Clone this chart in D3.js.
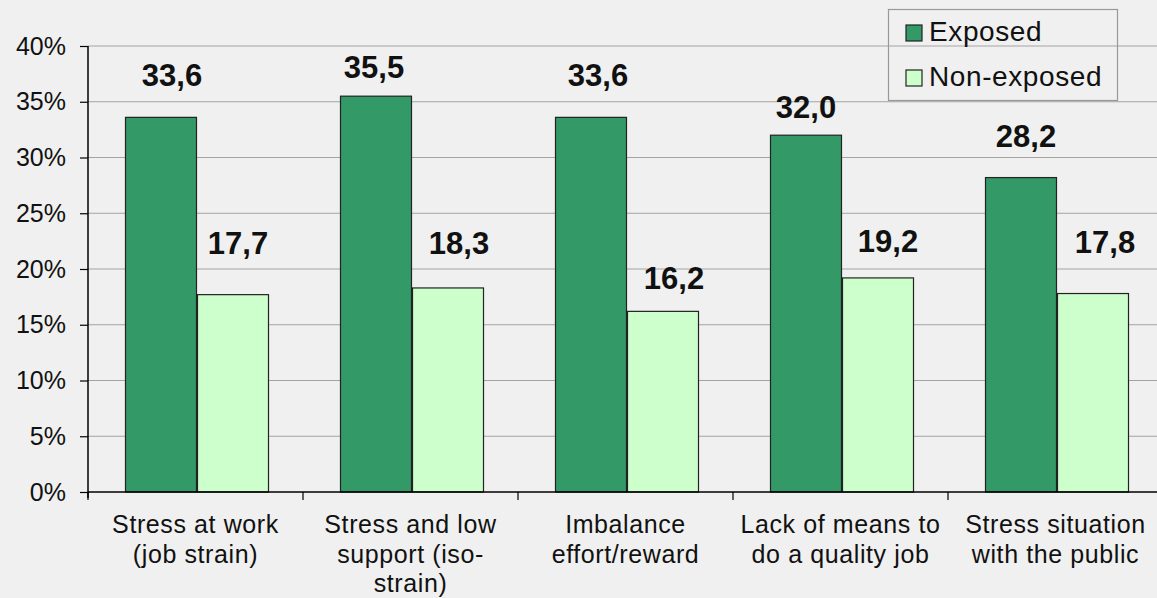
<!DOCTYPE html>
<html>
<head>
<meta charset="utf-8">
<script src="https://cdn.jsdelivr.net/npm/d3@7"></script>
<style>
  html, body { margin: 0; padding: 0; background: #eff0ef; }
  svg { display: block; }
  text { font-family: "Liberation Sans", Arial, sans-serif; fill: #111; }
</style>
</head>
<body>
<svg id="chart" width="1157" height="598"></svg>
<script>
// ---- data ----
const categories = [
  "Stress at work\n(job strain)",
  "Stress and low\nsupport (iso-\nstrain)",
  "Imbalance\neffort/reward",
  "Lack of means to\ndo a quality job",
  "Stress situation\nwith the public"
];
const seriesNames = ["Exposed", "Non-exposed"];
const exposed = [33.6, 35.5, 33.6, 32.0, 28.2];
const nonExposed = [17.7, 18.3, 16.2, 19.2, 17.8];
const yTicks = [0, 5, 10, 15, 20, 25, 30, 35, 40];

// ---- layout (hand-placed value label nudges relative to bar top / centre) ----
const exposedNudge = [[11, -31], [-2, -18], [7, -31], [0, -17], [5, -31]];
const nonExposedNudge = [[5, -41], [11, -34], [11, -22], [10, -26], [12, -41]];

const colors = { "Exposed": "#339966", "Non-exposed": "#ccffcc" };

const svg = d3.select("#chart");
const plotLeft = 88, plotRight = 1163, plotTop = 46, plotBottom = 492;

const x0 = d3.scaleBand().domain(categories).range([plotLeft, plotRight]).padding(0);
const x1 = d3.scaleBand().domain(seriesNames).range([37, 181]).padding(0);
const y = d3.scaleLinear().domain([0, 40]).range([plotBottom, plotTop]);

// gridlines
svg.append("g").selectAll("line").data(yTicks.filter(d => d > 0)).join("line")
  .attr("x1", plotLeft).attr("x2", 1157)
  .attr("y1", d => y(d)).attr("y2", d => y(d))
  .attr("stroke", "#a3a3a3").attr("stroke-width", 1.2);

// bars
const rows = categories.map((c, i) => ({
  cat: c,
  vals: [
    { s: "Exposed", v: exposed[i], n: exposedNudge[i] },
    { s: "Non-exposed", v: nonExposed[i], n: nonExposedNudge[i] }
  ]
}));

const groups = svg.append("g").selectAll("g").data(rows).join("g")
  .attr("transform", d => `translate(${x0(d.cat)},0)`);

groups.selectAll("rect").data(d => d.vals).join("rect")
  .attr("x", d => x1(d.s) + 0.5)
  .attr("y", d => y(d.v))
  .attr("width", x1.bandwidth() - 1)
  .attr("height", d => plotBottom - y(d.v))
  .attr("fill", d => colors[d.s])
  .attr("stroke", "#222")
  .attr("stroke-width", 1.2);

const fmt = v => d3.format(".1f")(v).replace(".", ",");
groups.selectAll("text.val").data(d => d.vals).join("text")
  .attr("class", "val")
  .attr("x", d => x1(d.s) + x1.bandwidth() / 2 + d.n[0])
  .attr("y", d => y(d.v) + d.n[1])
  .attr("text-anchor", "middle")
  .attr("font-size", 31)
  .attr("font-weight", "bold")
  .text(d => fmt(d.v));

// y axis
const yAxis = d3.axisLeft(y).tickValues(yTicks).tickFormat(d => d + "%").tickSize(8).tickPadding(14);
const ya = svg.append("g").attr("transform", `translate(${plotLeft},0)`).call(yAxis);
ya.select(".domain").attr("stroke", "#000").attr("stroke-width", 1.5).attr("d", `M0,${plotTop}V${plotBottom + 6}`);
ya.selectAll(".tick line").attr("stroke", "#000").attr("stroke-width", 1.2);
ya.selectAll(".tick text").attr("font-size", 25).attr("font-family", "Liberation Sans, Arial, sans-serif").attr("fill", "#111");

// x axis
const xa = svg.append("g").attr("transform", `translate(0,${plotBottom})`);
xa.append("line").attr("x1", plotLeft).attr("x2", 1157).attr("y1", 0).attr("y2", 0)
  .attr("stroke", "#000").attr("stroke-width", 1.5);
xa.selectAll("line.tk").data(categories).join("line").attr("class", "tk")
  .attr("x1", d => x0(d)).attr("x2", d => x0(d))
  .attr("y1", 0).attr("y2", 8).attr("stroke", "#000").attr("stroke-width", 1.2);

const catText = xa.selectAll("text").data(categories).join("text")
  .attr("x", d => x0(d) + x0.bandwidth() / 2)
  .attr("y", 41)
  .attr("text-anchor", "middle")
  .attr("font-size", 25)
  .attr("letter-spacing", "0.6px");
catText.each(function(d) {
  const t = d3.select(this);
  d.split("\n").forEach((line, i) => {
    t.append("tspan").attr("x", x0(d) + x0.bandwidth() / 2).attr("dy", i === 0 ? 0 : 29.5).text(line);
  });
});

// legend
const lg = svg.append("g");
lg.append("rect").attr("x", 888.5).attr("y", 9.5).attr("width", 229).attr("height", 91)
  .attr("fill", "none").attr("stroke", "#999").attr("stroke-width", 1.2);
const li = lg.selectAll("g").data(seriesNames).join("g")
  .attr("transform", (d, i) => `translate(906,${25 + i * 45})`);
li.append("rect").attr("width", 16).attr("height", 16)
  .attr("fill", d => colors[d]).attr("stroke", "#222").attr("stroke-width", 1.2);
li.append("text").attr("x", 23).attr("y", 16).attr("font-size", 28)
  .attr("letter-spacing", "0.6px").text(d => d);
</script>
</body>
</html>
